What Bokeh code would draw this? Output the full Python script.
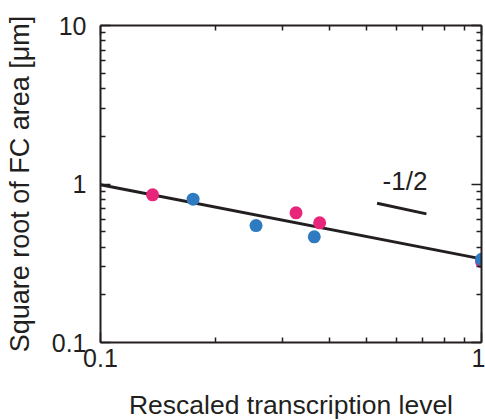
from bokeh.plotting import figure
from bokeh.models import LogAxis, FixedTicker, CustomJSTickFormatter
from bokeh.core.properties import value
from bokeh.embed import file_html
from bokeh.resources import INLINE

# Data
pink_x = [0.137, 0.326, 0.376, 1.0]
pink_y = [0.855, 0.658, 0.569, 0.324]
blue_x = [0.175, 0.256, 0.364, 1.0]
blue_y = [0.802, 0.547, 0.464, 0.335]
fit_x = [0.1, 1.0]
fit_y = [0.99, 0.337]
slope_x = [0.532, 0.717]
slope_y = [0.757, 0.648]
slope_label = "-1/2"
x_ticks = [0.1, 1]
y_ticks = [0.1, 1, 10]
x_minor = [0.2, 0.3, 0.4, 0.5, 0.6, 0.7, 0.8, 0.9]
y_minor = [0.2, 0.3, 0.4, 0.5, 0.6, 0.7, 0.8, 0.9, 2, 3, 4, 5, 6, 7, 8, 9]

FONT = "Liberation Sans"
TXT = "#231f20"
PINK = "#e8257b"
BLUE = "#2f7bc2"

p = figure(x_axis_type="log", y_axis_type="log",
           x_range=(0.1, 1), y_range=(0.1, 10),
           frame_width=381, frame_height=317,
           min_border_left=100, min_border_right=4, min_border_top=25, min_border_bottom=78,
           output_backend="svg", toolbar_location=None, tools="")
p.grid.visible = False
p.outline_line_color = None
p.background_fill_color = "white"
p.border_fill_color = "white"

p.xaxis.ticker = FixedTicker(ticks=x_ticks, minor_ticks=x_minor)
p.yaxis.ticker = FixedTicker(ticks=y_ticks, minor_ticks=y_minor)
p.xaxis.formatter = CustomJSTickFormatter(code="return String(tick);")
p.yaxis.formatter = CustomJSTickFormatter(code="return String(tick);")

def style(ax):
    ax.axis_line_color = TXT
    ax.axis_line_width = 2
    ax.major_tick_line_color = TXT
    ax.major_tick_line_width = 1.5
    ax.minor_tick_line_color = TXT
    ax.minor_tick_line_width = 1.5
    ax.major_tick_in = 10
    ax.major_tick_out = 0
    ax.minor_tick_in = 5
    ax.minor_tick_out = 0

for ax in (p.xaxis[0], p.yaxis[0]):
    style(ax)
    ax.major_label_text_font = FONT
    ax.major_label_text_font_size = "25px"
    ax.major_label_text_color = TXT
    ax.axis_label_text_font = FONT
    ax.axis_label_text_font_style = "normal"
    ax.axis_label_text_color = TXT

p.xaxis.axis_label = "Rescaled transcription level"
p.yaxis.axis_label = "Square root of FC area [μm]"
p.xaxis.axis_label_text_font_size = "26.5px"
p.yaxis.axis_label_text_font_size = "27px"
p.xaxis.major_label_standoff = 6
p.yaxis.major_label_standoff = 14
p.xaxis.axis_label_standoff = 20
p.yaxis.axis_label_standoff = 14

# Mirror axes (top and right) with inward ticks, no labels
top = LogAxis(ticker=FixedTicker(ticks=x_ticks, minor_ticks=x_minor))
right = LogAxis(ticker=FixedTicker(ticks=y_ticks, minor_ticks=y_minor))
for ax in (top, right):
    style(ax)
    ax.major_label_text_color = None
    ax.major_label_standoff = 0
p.add_layout(top, "above")
p.add_layout(right, "right")

p.line(fit_x, fit_y, line_color=TXT, line_width=3)
p.line(slope_x, slope_y, line_color=TXT, line_width=3)
p.text(x=[0.55], y=[1.05], text=[slope_label], text_font=value(FONT), text_font_size="26px",
       text_color=TXT, text_align="left", text_baseline="middle")

p.scatter(pink_x, pink_y, size=13, fill_color=PINK, line_color=None)
p.scatter(blue_x, blue_y, size=13, fill_color=BLUE, line_color=None)

open("out.html", "w").write(file_html(p, INLINE))
